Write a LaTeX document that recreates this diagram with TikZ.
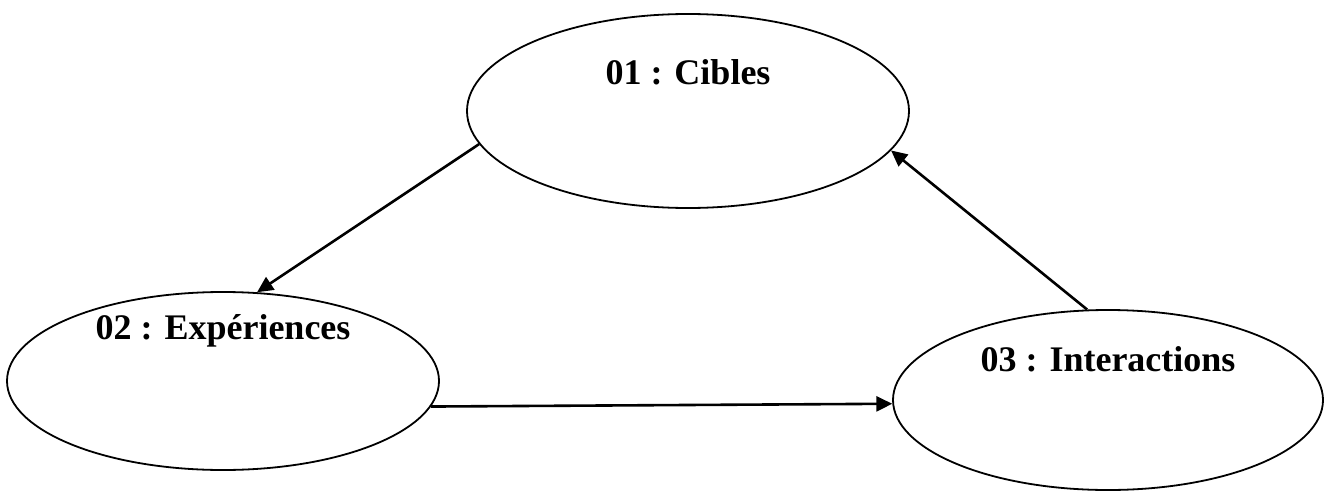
\documentclass[tikz,border=0pt]{standalone}
\usepackage{fontspec}
\setmainfont{Liberation Serif}
\usetikzlibrary{shapes.geometric,arrows.meta}
\begin{document}
\begin{tikzpicture}[x=1pt,y=-1pt,
  oval/.style={draw,ellipse,inner sep=0pt,line width=1.8pt},
  lbl/.style={font=\bfseries\fontsize{36}{41}\selectfont,inner sep=0pt},
  conn/.style={line width=2.6pt,-{Triangle[length=16pt,width=15pt]}}]
\useasboundingbox (0,0) rectangle (1327,503);
\node[oval,minimum width=442pt,minimum height=194pt] (c1) at (688,111) {};
\node[oval,minimum width=432pt,minimum height=178pt] (c2) at (223,381) {};
\node[oval,minimum width=430pt,minimum height=180pt] (c3) at (1108,400) {};
\node[lbl] (t1) at (688,72) {01 : Cibles};
\node[lbl] (t2) at (223,331) {02 : Expériences};
\node[lbl] (t3) at (1108,359) {03 : Interactions};
\draw[conn] (c1.189.4) -- (c2.69.6);
\draw[conn] (c2.353.7) -- (c3.181.4);
\draw[conn] (c3.103.6) -- (c1.349.1);
\end{tikzpicture}
\end{document}
